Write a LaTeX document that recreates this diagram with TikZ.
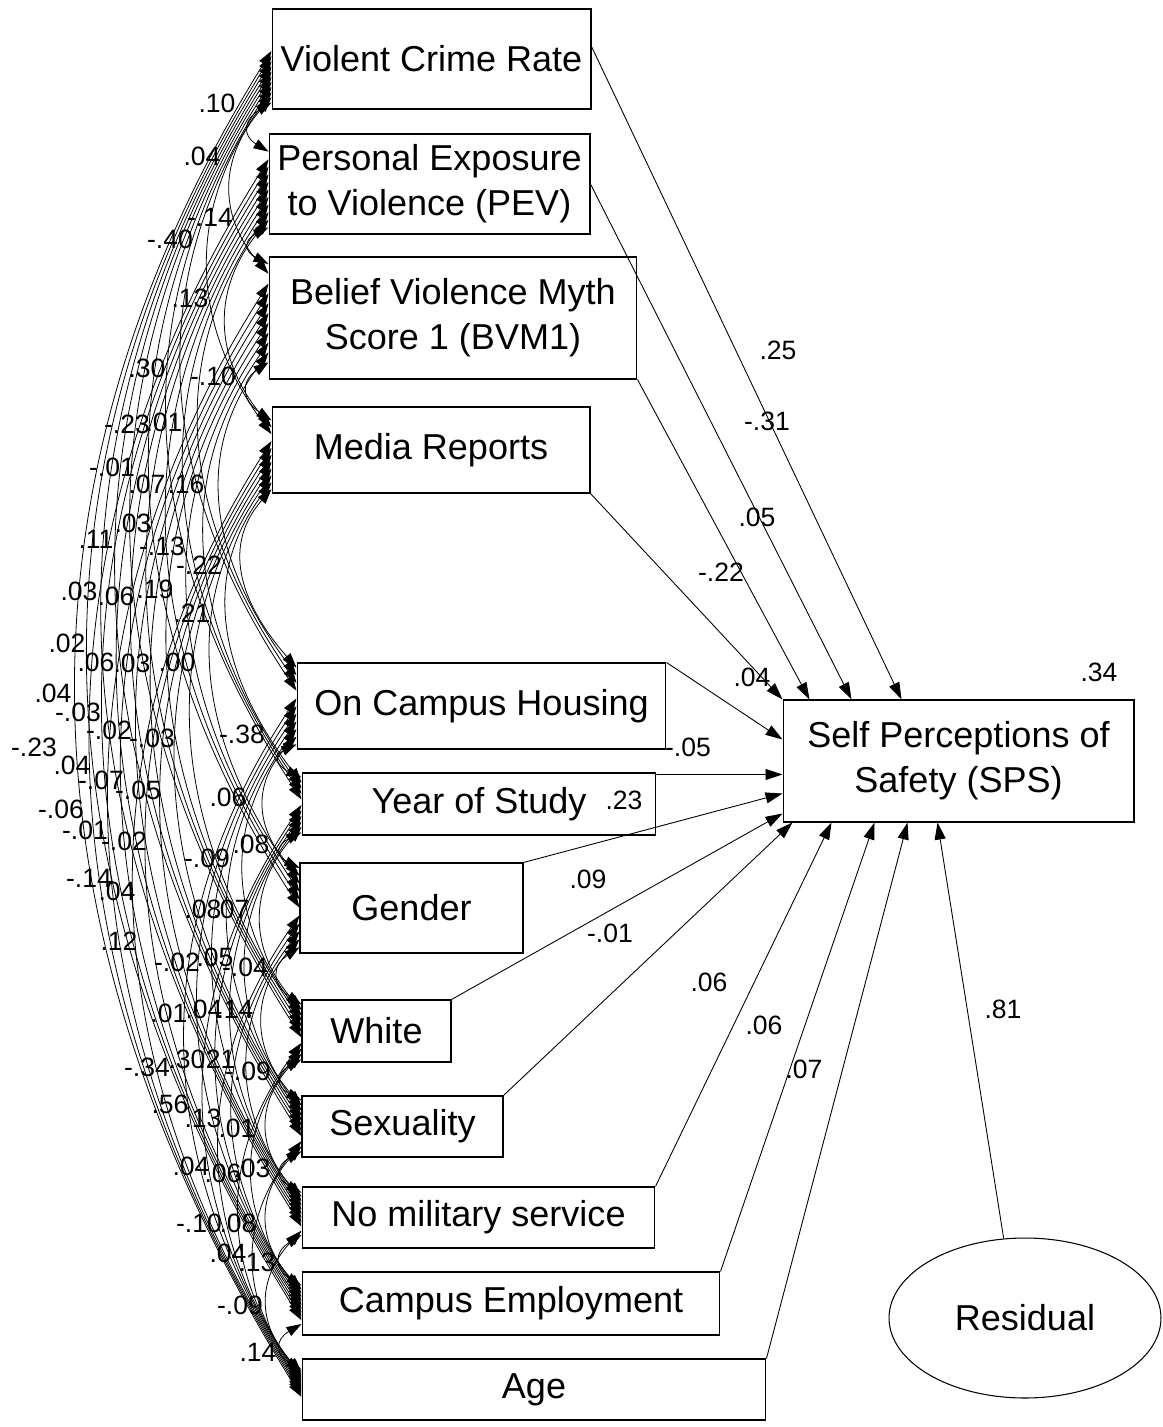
\documentclass[tikz,border=0pt]{standalone}
\usepackage{fontspec}
\setmainfont{Liberation Sans}
\usetikzlibrary{arrows.meta,calc,shapes.geometric}
\begin{document}
\begin{tikzpicture}[x=0.02cm,y=-0.02cm,
  box/.style={draw, line width=0.6pt, inner sep=0pt, align=center, font=\fontsize{20.5}{25.6}\selectfont},
  lbl/.style={inner sep=0pt, font=\fontsize{15.1}{18}\selectfont},
  reg/.style={line width=0.5pt, -{Triangle[length=0.34cm,width=0.22cm]}},
  corr/.style={line width=0.45pt, {Triangle[length=0.3cm,width=0.2cm]}-{Triangle[length=0.3cm,width=0.2cm]}}
]
\useasboundingbox (0,0) rectangle (1163,1427);

% exogenous variables
\node[box, minimum width=6.38cm, minimum height=2.00cm] (b1) at (431.5,59) {Violent Crime Rate};
\node[box, minimum width=6.42cm, minimum height=2.00cm] (b2) at (429.5,184) {Personal Exposure\\to Violence (PEV)};
\node[box, minimum width=7.36cm, minimum height=2.44cm] (b3) at (453,318) {Belief Violence Myth\\Score 1 (BVM1)};
\node[box, minimum width=6.36cm, minimum height=1.72cm] (b4) at (431,450) {Media Reports};
\node[box, minimum width=7.38cm, minimum height=1.72cm] (b5) at (481.5,706) {On Campus Housing};
\node[box, minimum width=7.08cm, minimum height=1.24cm] (b6) at (479,804) {Year of Study};
\node[box, minimum width=4.46cm, minimum height=1.80cm] (b7) at (411.5,908) {Gender};
\node[box, minimum width=2.98cm, minimum height=1.24cm] (b8) at (376.5,1031) {White};
\node[box, minimum width=4.02cm, minimum height=1.22cm] (b9) at (402.5,1126.5) {Sexuality};
\node[box, minimum width=7.06cm, minimum height=1.22cm] (b10) at (478.5,1217.5) {No military service};
\node[box, minimum width=8.36cm, minimum height=1.26cm] (b11) at (511,1303.5) {Campus Employment};
\node[box, minimum width=9.28cm, minimum height=1.22cm] (b12) at (534,1389.5) {Age};
% outcome and residual
\node[box, minimum width=7.02cm, minimum height=2.44cm] (sps) at (958.5,761) {Self Perceptions of\\Safety (SPS)};
\node[box, ellipse, minimum width=5.44cm, minimum height=3.2cm] (res) at (1025,1318) {Residual};

% regression paths
\draw[reg] ($(b1.north east)+(0,38)$) -- ($(sps.north west)+(119,0)$);
\draw[reg] (b2.east) -- ($(sps.north west)+(69,0)$);
\draw[reg] (b3.south east) -- ($(sps.north west)+(27,0)$);
\draw[reg] (b4.south east) -- (sps.north west);
\draw[reg] (b5.north east) -- ($(sps.north west)+(0,40)$);
\draw[reg] ($(b6.north east)+(0,2)$) -- ($(sps.north west)+(0,75)$);
\draw[reg] (b7.north east) -- ($(sps.north west)+(0,94)$);
\draw[reg] (b8.north east) -- ($(sps.north west)+(0,114)$);
\draw[reg] (b9.north east) -- ($(sps.south west)+(10,0)$);
\draw[reg] (b10.north east) -- ($(sps.south west)+(49,0)$);
\draw[reg] (b11.north east) -- ($(sps.south west)+(92,0)$);
\draw[reg] (b12.north east) -- ($(sps.south west)+(125,0)$);
\draw[reg] (res.105) -- ($(sps.south west)+(155,0)$);

% regression labels
\node[lbl] (r1) at (778,350) {.25};
\node[lbl] (r2) at (767,421) {-.31};
\node[lbl] (r3) at (757,517) {.05};
\node[lbl] (r4) at (721,572) {-.22};
\node[lbl] (r5) at (752,677) {.04};
\node[lbl] (r6) at (688,747) {-.05};
\node[lbl] (r7) at (624,800) {.23};
\node[lbl] (r8) at (588,879) {.09};
\node[lbl] (r9) at (610,933) {-.01};
\node[lbl] (r10) at (709,982) {.06};
\node[lbl] (r11) at (764,1025) {.06};
\node[lbl] (r12) at (804,1069) {.07};
\node[lbl] (r13) at (1099,672) {.34};
\node[lbl] (r14) at (1003,1009) {.81};

% correlations
\def\myTop{{9,134,257,407,663,773,863,1000,1096,1187,1272,1359}}
\def\myHt{{100,100,122,86,86,62,90,62,61,61,63,61}}
\def\myFz{{0.42,0.18,0.06,0.16,0.06,0.08,0.06,0.08,0.08,0.10,0.22,0.18}}
\def\myFo{{0.93,0.93,0.86,0.95,0.94,0.95,0.93,0.95,0.90,0.78,0.82,0.62}}
\foreach \i/\j/\lab/\lx/\ly in {
 1/2/.10/217/103, 1/3/.04/202/156, 1/4/-.40/170/239, 1/5/.30/147/368,
 1/6/-.23/127/424, 1/7/-.01/112/467, 1/8/.11/96/539, 1/9/.03/79/591,
 1/10/.02/67/643, 1/11/.04/53/693, 1/12/-.23/34/747,
 2/3/-.14/210/217, 2/4/.13/190/298, 2/5/.01/164/422, 2/6/.07/147/484,
 2/7/.03/133/523, 2/8/.06/116/596, 2/9/.06/96/662, 2/10/-.03/78/712,
 2/11/.04/72/765, 2/12/-.06/61/809,
 3/4/-.10/213/376, 3/5/.16/186/484, 3/6/-.13/162/546, 3/7/.19/155/589,
 3/8/.03/132/663, 3/9/-.02/109/730, 3/10/-.07/101/780, 3/11/-.01/85/830,
 3/12/-.14/89/878,
 4/5/-.22/199/565, 4/6/.21/192/613, 4/7/.00/177/662, 4/8/-.03/152/738,
 4/9/-.05/138/790, 4/10/-.02/124/841, 4/11/.04/117/891, 4/12/.12/119/941,
 5/6/-.38/242/734, 5/7/.06/228/797, 5/8/-.09/207/858, 5/9/.08/203/909,
 5/10/-.02/177/962, 5/11/.01/169/1013, 5/12/-.34/147/1067,
 6/7/.08/251/844, 6/8/.07/231/909, 6/9/.05/215/957, 6/10/.04/204/1009,
 6/11/.30/187/1059, 6/12/.56/170/1104,
 7/8/-.04/245/967, 7/9/.14/235/1009, 7/10/.21/217/1059, 7/11/.13/203/1118,
 7/12/.04/191/1166,
 8/9/-.09/248/1071, 8/10/.01/237/1128, 8/11/.06/223/1173, 8/12/-.10/199/1223,
 9/10/.03/252/1168, 9/11/.08/238/1223, 9/12/.04/228/1253,
 10/11/.13/257/1262, 10/12/-.09/240/1305,
 11/12/.14/258/1352}
{
  \pgfmathtruncatemacro\myia{\i-1+12-\j}
  \pgfmathtruncatemacro\myib{\j-1-\i}
  \pgfmathsetmacro\myfa{\myFz[\i-1]+(\myFo[\i-1]-\myFz[\i-1])*\myia/10}
  \pgfmathsetmacro\myfb{\myFz[\j-1]+(\myFo[\j-1]-\myFz[\j-1])*\myib/10}
  \pgfmathsetmacro\myya{\myTop[\i-1]+\myfa*\myHt[\i-1]}
  \pgfmathsetmacro\myyb{\myTop[\j-1]+\myfb*\myHt[\j-1]}
  \pgfmathsetmacro\mycc{(\myyb-\myya)/3}
  \pgfmathsetmacro\myhh{4/3*(13+0.146*(\myyb-\myya))}
  \draw[corr] ($(b\i.north west)!\myfa!(b\i.south west)$)
     .. controls +(-\myhh,\mycc) and +(-\myhh,-\mycc) ..
     ($(b\j.north west)!\myfb!(b\j.south west)$);
  \node[lbl] (l\i-\j) at (\lx,\ly) {\lab};
}
\end{tikzpicture}
\end{document}
